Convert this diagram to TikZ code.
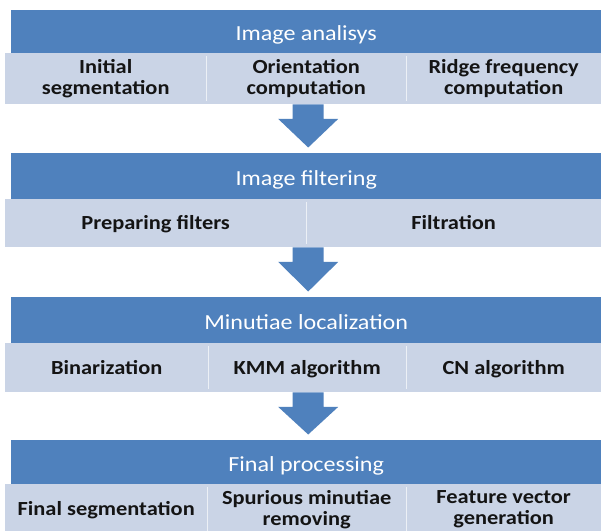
\documentclass[tikz,border=0pt]{standalone}
\usepackage{fontspec}
\setmainfont{Carlito}[FakeStretch=1.12]
\usetikzlibrary{calc}
\definecolor{hdrblue}{HTML}{4F81BD}
\definecolor{subfill}{HTML}{CAD4E6}
\definecolor{subtext}{HTML}{141414}
\newcommand\blockarr[2]{%
  \fill[blockarrow] ($(#1.south -| #2.north)+(-13.5,0)$) -- ++(0,14.5) -- ++(-14.5,0)
    -- ($(#2.north)+(2,-5.5)$) -- ($(#1.south -| #2.north)+(32,14.5)$) -- ++(-14.5,0)
    -- ($(#1.south -| #2.north)+(17.5,0)$) -- cycle;}
\begin{document}
\begin{tikzpicture}[x=1pt,y=-1pt,
  hdr/.style={fill=hdrblue, text=white, anchor=north west, inner sep=0pt,
    minimum width=590pt, text height=17.8pt, text depth=0pt,
    font=\fontsize{21.5}{25}\selectfont},
  cell/.style={fill=subfill, text=subtext, anchor=north west, inner sep=0pt,
    align=center, font=\bfseries\fontsize{20}{21}\selectfont},
  oneline/.style={text height=13pt, text depth=0pt},
  divider/.style={draw=white!65!subfill, line width=1.5pt, shorten <=3pt, shorten >=3pt},
  blockarrow/.style={fill=hdrblue}]
\useasboundingbox (0,0) rectangle (601,530);
\fill[white] (0,0) rectangle (601,530);
\clip (0,0) rectangle (601,530);
% headers
\node[hdr, minimum height=43.5pt] (h1) at (11,9.5) {Image analisys};
\node[hdr, minimum height=46pt] (h2) at (11,153) {Image filtering};
\node[hdr, minimum height=46pt] (h3) at (11,297) {Minutiae localization};
\node[hdr, minimum height=44pt] (h4) at (11,440) {Final processing};
% row 1
\node[cell, minimum width=201pt, minimum height=51pt] (c11) at (5,53) {Initial\\segmentation};
\node[cell, minimum width=200pt, minimum height=51pt] (c12) at (206,53) {Orientation\\computation};
\node[cell, minimum width=195pt, minimum height=51pt] (c13) at (406,53) {Ridge frequency\\computation};
% row 2
\node[cell, oneline, minimum width=301pt, minimum height=48pt] (c21) at (5,199) {Preparing filters};
\node[cell, oneline, minimum width=295pt, minimum height=48pt] (c22) at (306,199) {Filtration};
% row 3
\node[cell, oneline, minimum width=203pt, minimum height=49pt] (c31) at (5,343) {Binarization};
\node[cell, oneline, minimum width=198pt, minimum height=49pt] (c32) at (208,343) {KMM algorithm};
\node[cell, oneline, minimum width=195pt, minimum height=49pt] (c33) at (406,343) {CN algorithm};
% row 4
\node[cell, oneline, minimum width=202pt, minimum height=50pt] (c41) at (5,484) {Final segmentation};
\node[cell, minimum width=199pt, minimum height=50pt] (c42) at (207,484) {Spurious minutiae\\removing};
\node[cell, minimum width=195pt, minimum height=50pt] (c43) at (406,484) {Feature vector\\generation};
% dividers
\foreach \c in {c11,c12,c21,c31,c32,c41,c42}
  \draw[divider] (\c.north east) -- (\c.south east);
% arrows
\blockarr{c12}{h2}
\blockarr{c21}{h3}
\blockarr{c32}{h4}
\end{tikzpicture}
\end{document}
